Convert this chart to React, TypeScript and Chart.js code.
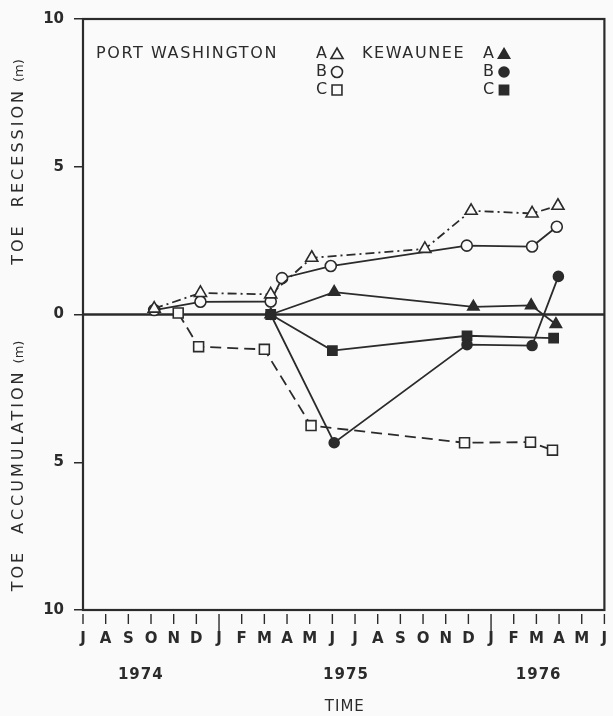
import React, { useEffect, useRef } from 'react';
import { Chart, registerables } from 'chart.js';

Chart.register(...registerables);

// ---------- data ----------
const monthLabels = ['J', 'A', 'S', 'O', 'N', 'D', 'J', 'F', 'M', 'A', 'M', 'J', 'J', 'A', 'S', 'O', 'N', 'D', 'J', 'F', 'M', 'A', 'M', 'J'];
const yearLabels = ['1974', '1975', '1976'];
const yearPositions = [2.55, 11.6, 20.1];
const januaryIndices = [6, 18];
const yTicks = [-10, -5, 0, 5, 10];

// Port Washington (open markers); x = months since July 1974
const pwA_x = [3.14, 5.18, 8.28, 10.09, 15.08, 17.12, 19.81, 20.95];
const pwA_y = [0.2, 0.73, 0.68, 1.92, 2.22, 3.51, 3.42, 3.68];
const pwB_x = [3.14, 5.18, 8.28, 8.78, 10.93, 16.93, 19.81, 20.9];
const pwB_y = [0.15, 0.43, 0.44, 1.23, 1.64, 2.33, 2.3, 2.97];
const pwC_x = [4.2, 5.1, 8.0, 10.06, 16.83, 19.74, 20.71];
const pwC_y = [0.05, -1.09, -1.18, -3.76, -4.34, -4.32, -4.59];
// Kewaunee (filled markers)
const kwA_x = [8.28, 11.08, 17.22, 19.77, 20.86];
const kwA_y = [0, 0.76, 0.26, 0.31, -0.33];
const kwB_x = [8.28, 11.08, 16.94, 19.81, 20.97];
const kwB_y = [0, -4.34, -1.02, -1.05, 1.29];
const kwC_x = [8.28, 11.0, 16.94, 20.76];
const kwC_y = [0, -1.22, -0.72, -0.8];

// ---------- style ----------
const BG = '#fafafa';
const INK = '#2b2b2b';
const FONT = 'DejaVu Sans';

const pts = (xs: number[], ys: number[]) => xs.map((x, i) => ({ x, y: ys[i] }));

function drawMarker(ctx: CanvasRenderingContext2D, style: string, x: number, y: number, r: number, filled: boolean) {
  ctx.save();
  ctx.beginPath();
  if (style === 'triangle') {
    let rad = 0;
    ctx.moveTo(x + Math.sin(rad) * r, y - Math.cos(rad) * r);
    rad += (2 * Math.PI) / 3;
    ctx.lineTo(x + Math.sin(rad) * r, y - Math.cos(rad) * r);
    rad += (2 * Math.PI) / 3;
    ctx.lineTo(x + Math.sin(rad) * r, y - Math.cos(rad) * r);
    ctx.closePath();
  } else if (style === 'circle') {
    ctx.arc(x, y, r, 0, Math.PI * 2);
  } else {
    const h = r * Math.SQRT1_2;
    ctx.rect(x - h, y - h, 2 * h, 2 * h);
  }
  ctx.fillStyle = filled ? INK : BG;
  ctx.fill();
  ctx.lineWidth = 1.6;
  ctx.strokeStyle = INK;
  ctx.stroke();
  ctx.restore();
}

const decorPlugin = {
  id: 'decor',
  beforeDraw(chart: any) {
    const { ctx, width, height } = chart;
    ctx.save();
    ctx.fillStyle = BG;
    ctx.fillRect(0, 0, width, height);
    ctx.restore();
  },
  beforeDatasetsDraw(chart: any) {
    const { ctx, chartArea: a, scales } = chart;
    const y0 = scales.y.getPixelForValue(0);
    ctx.save();
    ctx.strokeStyle = INK;
    ctx.lineWidth = 2.5;
    ctx.beginPath();
    ctx.moveTo(a.left, y0);
    ctx.lineTo(a.right, y0);
    ctx.stroke();
    ctx.lineWidth = 2.2;
    ctx.strokeRect(a.left, a.top, a.right - a.left, a.bottom - a.top);
    ctx.restore();
  },
  afterDraw(chart: any) {
    const { ctx, chartArea: a, scales } = chart;
    const xs = scales.x;
    ctx.save();
    ctx.strokeStyle = INK;
    ctx.fillStyle = INK;
    // month tick marks
    ctx.lineWidth = 1.4;
    monthLabels.forEach((_, i) => {
      const px = xs.getPixelForValue(i);
      const long = januaryIndices.includes(i);
      ctx.beginPath();
      ctx.moveTo(px, a.bottom + 4);
      ctx.lineTo(px, a.bottom + (long ? 25 : 14));
      ctx.stroke();
    });
    // year labels
    ctx.font = `bold 15px "${FONT}"`;
    ctx.textAlign = 'center';
    ctx.textBaseline = 'middle';
    (ctx as any).letterSpacing = '1px';
    yearLabels.forEach((t, i) => {
      ctx.fillText(t, xs.getPixelForValue(yearPositions[i]), 675);
    });
    ctx.font = `15px "${FONT}"`;
    ctx.fillText('TIME', xs.getPixelForValue(11.55), 707);

    // y titles
    const drawVertical = (main: string, cy: number) => {
      ctx.save();
      ctx.translate(19, cy);
      ctx.rotate(-Math.PI / 2);
      ctx.textBaseline = 'middle';
      ctx.textAlign = 'left';
      ctx.font = `16px "${FONT}"`;
      (ctx as any).letterSpacing = '3px';
      const w1 = ctx.measureText(main).width;
      ctx.font = `13px "${FONT}"`;
      (ctx as any).letterSpacing = '0px';
      const w2 = ctx.measureText('(m)').width;
      const gap = 6;
      const total = w1 + gap + w2;
      ctx.font = `16px "${FONT}"`;
      (ctx as any).letterSpacing = '3px';
      ctx.fillText(main, -total / 2, 0);
      ctx.font = `13px "${FONT}"`;
      (ctx as any).letterSpacing = '0px';
      ctx.fillText('(m)', -total / 2 + w1 + gap, 1);
      ctx.restore();
    };
    drawVertical('TOE  RECESSION', 162);
    drawVertical('TOE  ACCUMULATION', 466);

    // legend
    ctx.font = `16px "${FONT}"`;
    ctx.textAlign = 'left';
    ctx.textBaseline = 'middle';
    (ctx as any).letterSpacing = '1.6px';
    const rows = [54, 72, 90];
    const letters = ['A', 'B', 'C'];
    const shapes = ['triangle', 'circle', 'rect'];
    const radii = [7, 5.5, 7];
    const kRadii = [6.5, 5, 6.5];
    ctx.fillText('PORT WASHINGTON', 96, rows[0]);
    ctx.fillText('KEWAUNEE', 362, rows[0]);
    (ctx as any).letterSpacing = '0px';
    rows.forEach((ry, i) => {
      ctx.fillStyle = INK;
      ctx.fillText(letters[i], 316, ry);
      ctx.fillText(letters[i], 483, ry);
      drawMarker(ctx, shapes[i], 337, ry + (i === 0 ? 1 : 0), radii[i], false);
      drawMarker(ctx, shapes[i], 504, ry + (i === 0 ? 1 : 0), kRadii[i], true);
    });
    ctx.restore();
  },
};

export default function App() {
  const ref = useRef<HTMLCanvasElement>(null);

  useEffect(() => {
    const lineBase = {
      borderColor: INK,
      borderWidth: 1.8,
      tension: 0,
      fill: false,
      pointBorderColor: INK,
      pointBorderWidth: 1.6,
    };
    const open = { pointBackgroundColor: BG };
    const filled = { pointBackgroundColor: INK };
    const chart = new Chart(ref.current as HTMLCanvasElement, {
      type: 'line',
      data: {
        datasets: [
          { ...lineBase, ...filled, label: 'Kewaunee A', data: pts(kwA_x, kwA_y), pointStyle: 'triangle', pointRadius: 6.5 },
          { ...lineBase, ...filled, label: 'Kewaunee B', data: pts(kwB_x, kwB_y), pointStyle: 'circle', pointRadius: 5 },
          { ...lineBase, ...filled, label: 'Kewaunee C', data: pts(kwC_x, kwC_y), pointStyle: 'rect', pointRadius: 6.5 },
          { ...lineBase, ...open, label: 'Port Washington A', data: pts(pwA_x, pwA_y), pointStyle: 'triangle', pointRadius: 7, borderDash: [9, 4, 2, 4] },
          { ...lineBase, ...open, label: 'Port Washington B', data: pts(pwB_x, pwB_y), pointStyle: 'circle', pointRadius: 5.5 },
          { ...lineBase, ...open, label: 'Port Washington C', data: pts(pwC_x, pwC_y), pointStyle: 'rect', pointRadius: 7, borderDash: [11, 6] },
        ] as any,
      },
      options: {
        animation: false,
        responsive: false,
        layout: { padding: { top: 15, right: 3, left: 0, bottom: 0 } },
        plugins: {
          legend: { display: false },
          tooltip: { enabled: false },
        },
        scales: {
          x: {
            type: 'linear',
            min: 0,
            max: 23,
            afterFit: (s: any) => {
              s.height = 106;
              s.paddingLeft = 0;
              s.paddingRight = 0;
            },
            afterBuildTicks: (s: any) => {
              s.ticks = monthLabels.map((_, i) => ({ value: i }));
            },
            ticks: {
              callback: (v: any) => monthLabels[v] ?? '',
              padding: 20,
              autoSkip: false,
              maxRotation: 0,
              color: INK,
              font: { family: FONT, size: 15, weight: 'bold' },
            },
            grid: { display: false, drawTicks: false },
            border: { display: false },
          },
          y: {
            type: 'linear',
            min: -10,
            max: 10,
            afterFit: (s: any) => {
              s.width = 83;
            },
            afterBuildTicks: (s: any) => {
              s.ticks = yTicks.map((v) => ({ value: v }));
            },
            ticks: {
              callback: (v: any) => String(Math.abs(Number(v))),
              padding: 10,
              color: INK,
              font: { family: FONT, size: 15, weight: 'bold' },
            },
            grid: { drawOnChartArea: false, tickLength: 9, color: INK, lineWidth: 1.5 },
            border: { display: false },
          },
        },
      } as any,
      plugins: [decorPlugin],
    });
    return () => chart.destroy();
  }, []);

  return (
    <div style={{ position: 'absolute', left: 0, top: 0, width: 613, height: 716, background: BG }}>
      <canvas ref={ref} width={613} height={716} style={{ display: 'block' }} />
    </div>
  );
}
